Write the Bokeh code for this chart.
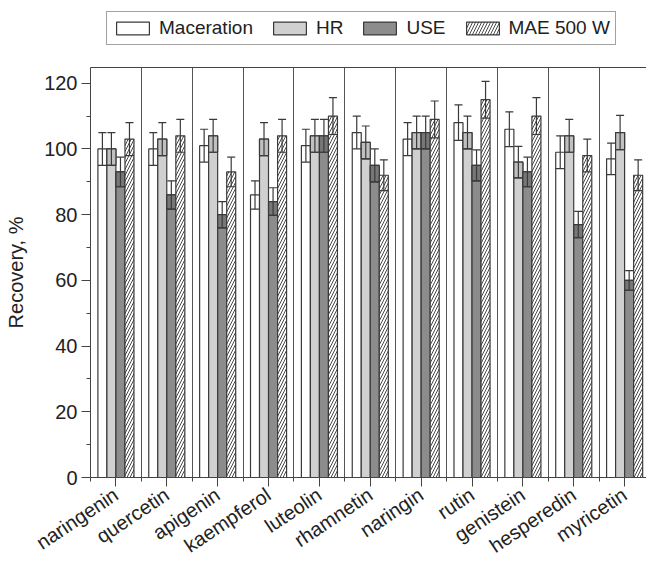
import numpy as np
from bokeh.plotting import figure
from bokeh.layouts import column
from bokeh.models import (ColumnDataSource, Range1d, FixedTicker, Whisker, TeeHead,
                          Legend, LegendItem, LinearAxis)
from bokeh.embed import file_html
from bokeh.resources import INLINE

compounds = ["naringenin", "quercetin", "apigenin", "kaempferol", "luteolin", "rhamnetin",
             "naringin", "rutin", "genistein", "hesperedin", "myricetin"]
series = ["Maceration", "HR", "USE", "MAE 500 W"]

maceration = [100, 100, 101, 86, 101, 105, 103, 108, 106, 99, 97]
maceration_err = [5, 5, 5, 4.3, 5, 5, 5, 5.4, 5.3, 5, 4.8]
hr = [100, 103, 104, 103, 104, 102, 105, 105, 96, 104, 105]
hr_err = [5, 5, 5, 5, 5, 5, 5, 5, 4.8, 5, 5.2]
use = [93, 86, 80, 84, 104, 95, 105, 95, 93, 77, 60]
use_err = [4.5, 4.3, 4, 4.2, 5, 5, 5, 4.7, 4.5, 4, 3]
mae = [103, 104, 93, 104, 110, 92, 109, 115, 110, 98, 92]
mae_err = [5, 5, 4.5, 5, 5.6, 4.7, 5.6, 5.6, 5.6, 5, 4.7]

y_ticks = [0, 20, 40, 60, 80, 100, 120]

values = [maceration, hr, use, mae]
errors = [maceration_err, hr_err, use_err, mae_err]

FONT = "Liberation Sans"
TXT = "#222222"
EDGE = "#3a3a3a"

n = len(compounds)
centers = np.arange(n) + 0.5
offsets = [-0.266, -0.089, 0.089, 0.266]
bar_w = 0.177
fills = ["#ffffff", "#d0d0d0", "#8c8c8c", "#ffffff"]
box_fills = [None, "#c0c0c0", "#777777", None]
hatches = [None, None, None, "/"]


def bar_style(i):
    kw = dict(fill_color=fills[i], line_color=EDGE, line_width=1.2)
    if hatches[i]:
        kw.update(hatch_pattern=hatches[i], hatch_scale=6, hatch_weight=0.9,
                  hatch_color="#333333")
    return kw


LEG_H = 48
TOTAL_H = 568

# ---- legend strip (own small figure so the legend is not clipped) ----
lf = figure(width=646, height=LEG_H, output_backend="svg", toolbar_location=None,
            x_range=Range1d(0, 1), y_range=Range1d(0, 1),
            x_axis_location=None, y_axis_location=None,
            min_border_left=0, min_border_right=0, min_border_top=0, min_border_bottom=0,
            outline_line_color=None)
lf.grid.visible = False
# one off-screen sample row so that the legend can draw each swatch
leg_src = ColumnDataSource(dict(x=[-1.0], top=[0.0]))
leg_items = []
for i, s in enumerate(series):
    r = lf.vbar(x="x", top="top", width=0.1, source=leg_src, **bar_style(i))
    leg_items.append(LegendItem(label=s, renderers=[r]))
legend = Legend(items=leg_items, orientation="horizontal", location=(16, 3),
                border_line_color="#444444", border_line_width=1,
                glyph_width=41, glyph_height=16, label_standoff=6, spacing=16,
                padding=5, margin=0,
                label_text_font=FONT, label_text_font_size="19px", label_text_color=TXT)
lf.add_layout(legend)

# ---- main chart ----
p = figure(width=646, height=TOTAL_H - LEG_H, output_backend="svg", toolbar_location=None,
           x_range=Range1d(0, 10.93), y_range=Range1d(0, 124.8),
           min_border_left=90, min_border_right=0, min_border_top=67 - LEG_H,
           min_border_bottom=80, outline_line_color=None, background_fill_color="white")

for i, s in enumerate(series):
    v = np.array(values[i], dtype=float)
    e = np.array(errors[i], dtype=float)
    src = ColumnDataSource(dict(x=centers + offsets[i], top=v, lower=v - e, upper=v + e))
    p.vbar(x="x", top="top", width=bar_w, source=src, **bar_style(i))
    if box_fills[i]:
        p.vbar(x="x", top="top", bottom="lower", width=bar_w, source=src,
               fill_color=box_fills[i], line_color=EDGE, line_width=1.2)
    w = Whisker(source=src, base="x", upper="upper", lower="lower", level="annotation",
                line_color=EDGE, line_width=1.2,
                upper_head=TeeHead(size=8, line_color=EDGE, line_width=1.2),
                lower_head=TeeHead(size=9, line_color=EDGE, line_width=1.2))
    p.add_layout(w)

xa = p.xaxis[0]
xa.ticker = FixedTicker(ticks=list(centers), minor_ticks=list(np.arange(0, n + 1)))
xa.major_label_overrides = {float(c): name for c, name in zip(centers, compounds)}
xa.major_label_orientation = 0.59
xa.major_label_text_font = FONT
xa.major_label_text_font_size = "20px"
xa.major_label_text_color = TXT
xa.major_label_standoff = 6
xa.major_tick_out = 9
xa.major_tick_in = 0
xa.minor_tick_out = 4
xa.minor_tick_in = 0
xa.axis_line_color = "#444444"
xa.major_tick_line_color = "#444444"
xa.minor_tick_line_color = "#444444"

ya = p.yaxis[0]
ya.ticker = FixedTicker(ticks=y_ticks, minor_ticks=list(range(0, 125, 10)))
ya.axis_label = "Recovery, %"
ya.axis_label_text_font = FONT
ya.axis_label_text_font_size = "20px"
ya.axis_label_text_font_style = "normal"
ya.axis_label_text_color = TXT
ya.axis_label_standoff = 14
ya.major_label_text_font = FONT
ya.major_label_text_font_size = "20px"
ya.major_label_text_color = TXT
ya.major_label_standoff = 4
ya.major_tick_out = 9
ya.major_tick_in = 0
ya.minor_tick_out = 4
ya.minor_tick_in = 0
ya.axis_line_color = "#444444"
ya.major_tick_line_color = "#444444"
ya.minor_tick_line_color = "#444444"

top_axis = LinearAxis(ticker=FixedTicker(ticks=[]), axis_line_color="#444444",
                      major_tick_out=0, minor_tick_out=0, major_label_standoff=0)
p.add_layout(top_axis, "above")

p.ygrid.grid_line_color = None
p.xgrid.ticker = FixedTicker(ticks=list(np.arange(1, n)))
p.xgrid.grid_line_color = "#555555"
p.xgrid.grid_line_width = 1

layout = column(lf, p, spacing=0)
open("out.html", "w").write(file_html(layout, INLINE))
